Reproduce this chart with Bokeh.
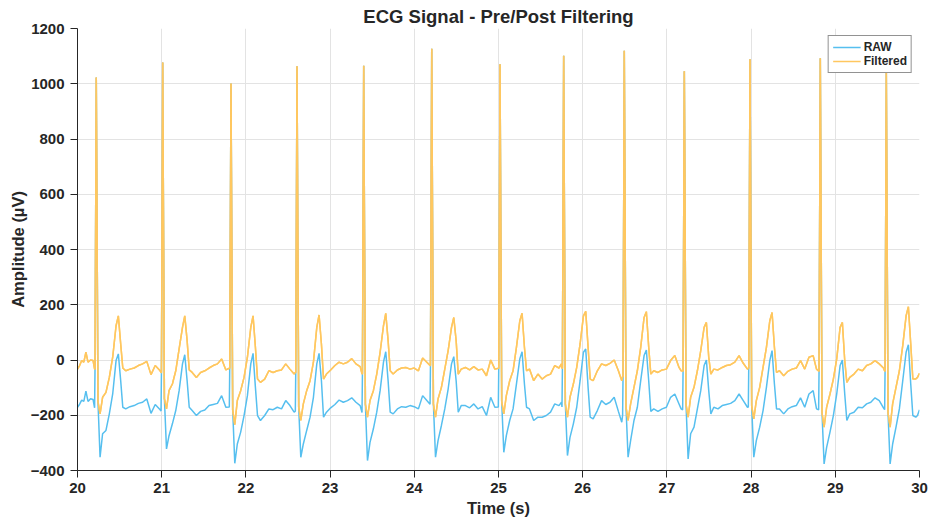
from bokeh.plotting import figure
from bokeh.models import Range1d, SingleIntervalTicker, Legend, LegendItem, ColumnDataSource
from bokeh.embed import file_html
from bokeh.resources import INLINE

# ECG trace, 20-30 s window. Vertices are listed beat by beat:
# pre-Q, Q, R, J, S, ST upstroke, T wave and the baseline until the next beat.
time_s = [
    # lead-in
    20.000, 20.025, 20.050, 20.075, 20.100, 20.125, 20.155, 20.185,
    # beat 1
    20.203, 20.208, 20.223, 20.243, 20.268, 20.298, 20.338, 20.378, 20.418, 20.458, 20.485,
    20.513, 20.538, 20.573, 20.623, 20.673, 20.723, 20.773, 20.823, 20.873, 20.923, 20.973,
    # beat 2
    20.992, 20.997, 21.012, 21.032, 21.057, 21.087, 21.127, 21.167, 21.207, 21.247, 21.274,
    21.302, 21.327, 21.362, 21.412, 21.462, 21.512, 21.562, 21.612, 21.662, 21.712, 21.762,
    # beat 3
    21.803, 21.808, 21.823, 21.843, 21.868, 21.898, 21.938, 21.978, 22.018, 22.058, 22.085,
    22.113, 22.138, 22.173, 22.223, 22.273, 22.323, 22.373, 22.423, 22.473, 22.523, 22.573,
    # beat 4
    22.587, 22.592, 22.607, 22.627, 22.652, 22.682, 22.722, 22.762, 22.802, 22.842, 22.869,
    22.897, 22.922, 22.957, 23.007, 23.057, 23.107, 23.157, 23.207, 23.257, 23.307, 23.357,
    # beat 5
    23.379, 23.384, 23.399, 23.419, 23.444, 23.474, 23.514, 23.554, 23.594, 23.634, 23.661,
    23.689, 23.714, 23.749, 23.799, 23.849, 23.899, 23.949, 23.999, 24.049, 24.099, 24.149,
    # beat 6
    24.187, 24.192, 24.207, 24.227, 24.252, 24.282, 24.322, 24.362, 24.402, 24.442, 24.469,
    24.497, 24.522, 24.557, 24.607, 24.657, 24.707, 24.757, 24.807, 24.857, 24.907, 24.957,
    # beat 7
    24.998, 25.003, 25.018, 25.038, 25.063, 25.093, 25.133, 25.173, 25.213, 25.253, 25.280,
    25.308, 25.333, 25.368, 25.418, 25.468, 25.518, 25.568, 25.618, 25.668, 25.718, 25.748,
    # beat 8
    25.754, 25.759, 25.774, 25.794, 25.819, 25.849, 25.889, 25.929, 25.969, 26.009, 26.036,
    26.064, 26.089, 26.124, 26.174, 26.224, 26.274, 26.324, 26.374, 26.424, 26.464,
    # beat 9
    26.474, 26.479, 26.494, 26.514, 26.539, 26.569, 26.609, 26.649, 26.689, 26.729, 26.756,
    26.784, 26.809, 26.844, 26.894, 26.944, 26.994, 27.044, 27.094, 27.144, 27.169,
    # beat 10
    27.187, 27.192, 27.207, 27.227, 27.252, 27.282, 27.322, 27.362, 27.402, 27.442, 27.469,
    27.497, 27.522, 27.557, 27.607, 27.657, 27.707, 27.757, 27.807, 27.857, 27.907, 27.957,
    # beat 11
    27.967, 27.972, 27.987, 28.007, 28.032, 28.062, 28.102, 28.142, 28.182, 28.222, 28.249,
    28.277, 28.302, 28.337, 28.387, 28.437, 28.487, 28.537, 28.587, 28.637, 28.687, 28.737,
    28.777,
    # beat 12
    28.802, 28.807, 28.822, 28.842, 28.867, 28.897, 28.937, 28.977, 29.017, 29.057, 29.084,
    29.112, 29.137, 29.172, 29.222, 29.272, 29.322, 29.372, 29.422, 29.472, 29.522, 29.572,
    # beat 13 and tail
    29.586, 29.591, 29.606, 29.626, 29.651, 29.681, 29.721, 29.761, 29.801, 29.841, 29.868,
    29.896, 29.921, 29.956, 29.976, 30.000,
]

raw_uv = [
    -171, -160, -145, -150, -113, -150, -140, -143,
    -173, -33, 1023, -150, -352, -267, -255, -195, -123, -2, 22,
    -75, -171, -177, -169, -165, -157, -153, -141, -193, -161, -177,
    -185, -45, 1077, -140, -322, -274, -231, -183, -111, -14, 19,
    -75, -171, -183, -201, -186, -181, -165, -161, -157, -129, -171,
    -170, -30, 1001, -180, -374, -304, -261, -201, -129, -14, 24,
    -99, -201, -219, -201, -177, -180, -171, -177, -147, -165, -189,
    -185, -45, 1063, -170, -352, -304, -255, -207, -135, -14, 24,
    -75, -207, -189, -173, -161, -145, -153, -147, -137, -153, -165,
    -190, -50, 1065, -160, -364, -298, -249, -189, -111, -8, 30,
    -75, -189, -195, -177, -169, -171, -165, -169, -177, -129, -147,
    -160, -20, 1127, -160, -352, -292, -237, -177, -105, -14, 12,
    -75, -189, -165, -165, -173, -159, -177, -169, -201, -135, -171,
    -170, -30, 1071, -150, -334, -274, -219, -177, -87, 4, 30,
    -87, -171, -177, -219, -207, -207, -201, -189, -159, -165, -153,
    -170, -30, 1101, -160, -346, -280, -231, -171, -75, 28, 40,
    -99, -207, -213, -183, -147, -161, -153, -135, -186, -225,
    -200, -60, 1119, -170, -352, -292, -219, -171, -75, 16, 36,
    -75, -186, -177, -186, -177, -171, -135, -123, -159, -177,
    -180, -40, 1045, -160, -358, -267, -243, -177, -111, -20, 0,
    -111, -195, -171, -177, -165, -161, -157, -147, -123, -147, -171,
    -170, -30, 1089, -165, -352, -292, -243, -183, -99, -2, 34,
    -87, -177, -177, -195, -177, -169, -165, -137, -171, -123, -111,
    -177,
    -180, -40, 1092, -190, -376, -316, -261, -201, -123, -20, 0,
    -123, -219, -195, -189, -171, -173, -159, -153, -137, -147, -173,
    -180, -40, 1041, -190, -376, -304, -243, -177, -75, 28, 55,
    -87, -201, -207, -201, -180,
]

filtered_uv = [
    -33, -20, -2, -8, 28, -8, 0, -2,
    -33, -33, 1023, -150, -195, -135, -117, -63, 10, 124, 160,
    58, -29, -39, -33, -29, -20, -14, -5, -53, -20, -36,
    -45, -45, 1077, -140, -177, -111, -87, -39, 40, 118, 160,
    70, -36, -45, -63, -45, -39, -29, -20, -14, 4, -36,
    -30, -30, 1001, -180, -234, -147, -111, -63, 10, 118, 160,
    46, -69, -81, -69, -39, -45, -39, -36, -14, -33, -51,
    -45, -45, 1063, -170, -219, -159, -111, -75, -8, 118, 163,
    58, -69, -51, -36, -20, -8, -14, -8, 5, -14, -24,
    -50, -50, 1065, -160, -207, -147, -111, -51, 28, 124, 169,
    70, -39, -51, -36, -29, -27, -33, -29, -39, 7, -8,
    -20, -20, 1127, -160, -207, -141, -99, -33, 34, 118, 154,
    70, -51, -33, -27, -36, -24, -36, -33, -57, 0, -33,
    -30, -30, 1071, -150, -195, -129, -75, -39, 46, 142, 169,
    46, -39, -33, -75, -51, -69, -57, -51, -20, -29, -14,
    -30, -30, 1101, -160, -207, -135, -87, -27, 58, 160, 176,
    46, -69, -75, -39, -14, -20, -12, 0, -39, -75,
    -60, -60, 1119, -170, -219, -159, -99, -39, 46, 154, 175,
    46, -51, -39, -45, -36, -33, -2, 16, -27, -39,
    -40, -40, 1045, -160, -207, -135, -99, -39, 34, 118, 136,
    10, -51, -33, -36, -27, -20, -17, -8, 16, -12, -33,
    -30, -30, 1089, -165, -213, -147, -99, -27, 46, 142, 172,
    46, -45, -39, -57, -41, -33, -29, -2, -33, 10, 16,
    -33,
    -40, -40, 1092, -190, -243, -171, -123, -69, 4, 118, 136,
    -2, -81, -63, -51, -33, -39, -20, -14, -2, -14, -29,
    -40, -40, 1041, -190, -243, -159, -99, -39, 52, 160, 193,
    58, -69, -69, -63, -48,
]

x_ticks_step = 1
y_ticks_step = 200

FONT = "Liberation Sans"
INK = "#262626"
RAW_COLOR = "#56BFEF"
FILTERED_COLOR = "#FFC75F"

source = ColumnDataSource(dict(t=time_s, raw=raw_uv, filt=filtered_uv))

p = figure(
    width=929, height=520,
    output_backend="svg", toolbar_location=None,
    x_range=Range1d(20, 30), y_range=Range1d(-400, 1200),
    min_border_left=77, min_border_right=10, min_border_top=28, min_border_bottom=50,
    background_fill_color="white", border_fill_color="white",
)
p.outline_line_color = None

p.title.text = "ECG Signal - Pre/Post Filtering"
p.title.align = "center"
p.title.text_font = FONT
p.title.text_font_size = "18.5px"
p.title.text_font_style = "bold"
p.title.text_color = INK
p.title.standoff = 3

raw_line = p.line("t", "raw", source=source, line_color=RAW_COLOR, line_width=1.5)
# the filtered trace is stroked twice so its thin R spikes fully hide the raw trace beneath
p.line("t", "filt", source=source, line_color=FILTERED_COLOR, line_width=1.5)
filt_line = p.line("t", "filt", source=source, line_color=FILTERED_COLOR, line_width=1.5)

p.xaxis.ticker = SingleIntervalTicker(interval=x_ticks_step)
p.yaxis.ticker = SingleIntervalTicker(interval=y_ticks_step)
p.xaxis.axis_label = "Time (s)"
p.yaxis.axis_label = "Amplitude (µV)"

for ax in (p.xaxis, p.yaxis):
    ax.axis_line_color = INK
    ax.axis_line_width = 1
    ax.major_tick_line_color = INK
    ax.major_tick_out = 7
    ax.major_tick_in = 0
    ax.minor_tick_line_color = None
    ax.major_label_text_font = FONT
    ax.major_label_text_font_size = "15px"
    ax.major_label_text_font_style = "bold"
    ax.major_label_text_color = INK
    ax.axis_label_text_font = FONT
    ax.axis_label_text_font_size = "16.5px"
    ax.axis_label_text_font_style = "bold"
    ax.axis_label_text_color = INK

p.yaxis.major_label_standoff = 6
p.yaxis.axis_label_standoff = 1
p.xaxis.major_label_standoff = 5
p.xaxis.axis_label_standoff = 3

p.grid.grid_line_color = "#E3E3E3"
p.grid.grid_line_width = 1

legend = Legend(
    items=[LegendItem(label="RAW", renderers=[raw_line]),
           LegendItem(label="Filtered", renderers=[filt_line])],
    location="top_right",
    margin=7, padding=4, spacing=0,
    glyph_width=28, glyph_height=14, label_standoff=3,
    label_text_font=FONT, label_text_font_size="12px", label_text_font_style="bold",
    label_text_color=INK, label_height=14,
    border_line_color=INK, border_line_width=1,
    background_fill_color="white", background_fill_alpha=1,
)
p.add_layout(legend, "center")

open("out.html", "w").write(file_html(p, INLINE))
